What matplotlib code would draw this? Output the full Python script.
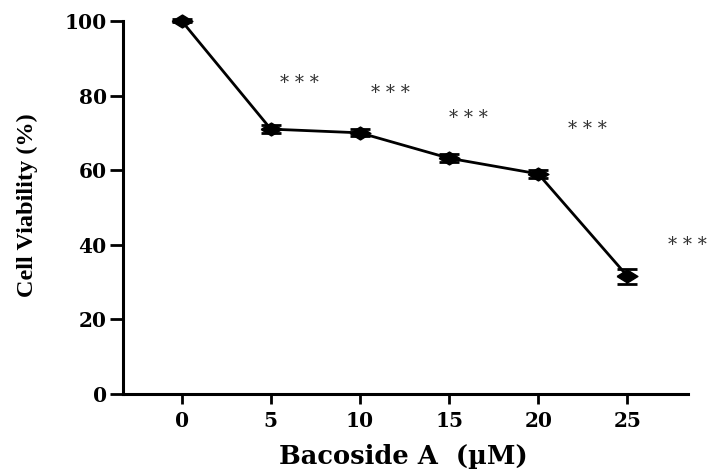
import matplotlib
matplotlib.use("Agg")
import matplotlib.pyplot as plt

conc = [0, 5, 10, 15, 20, 25]
viability = [100, 71, 70, 63.2, 59, 31.6]
err = [0.4, 1.0, 0.9, 1.0, 1.0, 2.0]
star_x = [6.6, 11.7, 16.1, 22.75, 28.35]
star_y = [83.4, 80.7, 74.0, 71.0, 40.0]
star_text = "* * *"

plt.rcParams['font.family'] = ['DejaVu Serif', 'DejaVu Sans']
plt.rcParams['font.weight'] = 'bold'

fig = plt.figure(figsize=(7.1, 4.75), dpi=100)
ax = fig.add_axes([0.173, 0.1705, 0.796, 0.7855])

wide_diamond = [(-1, 0), (0, 0.62), (1, 0), (0, -0.62), (-1, 0)]
ax.errorbar(conc, viability, yerr=err, color='black', marker=wide_diamond, markersize=15,
            linewidth=2, elinewidth=1.5, capsize=7.5, capthick=2, clip_on=False, zorder=3)

for x, y in zip(star_x, star_y):
    ax.text(x, y, star_text, ha='center', va='center', fontsize=13, color='#333333',
            fontweight='normal', family=['DejaVu Serif'], clip_on=False)

ax.set_xlim(-3.3, 28.4)
ax.set_ylim(0, 100)
ax.set_xticks(conc)
ax.set_yticks([0, 20, 40, 60, 80, 100])
ax.spines['top'].set_visible(False)
ax.spines['right'].set_visible(False)
for s in ['left', 'bottom']:
    ax.spines[s].set_linewidth(2.2)
ax.tick_params(axis='y', length=9.5, width=2, labelsize=14.5, pad=2)
ax.tick_params(axis='x', length=7, width=2, labelsize=14.5, pad=5)
for lab in ax.get_xticklabels() + ax.get_yticklabels():
    lab.set_fontweight('bold')

ax.set_ylabel('Cell Viability (%)', fontsize=17.5, fontweight='bold',
              family=['Liberation Serif', 'DejaVu Serif'])
ax.yaxis.label.set_va('center')
ax.yaxis.label.set_ha('center')
ax.yaxis.set_label_coords(-0.168, 0.507)

ax.set_xlabel('Bacoside A  (\u00b5M)', fontsize=18.5, fontweight='bold')
ax.xaxis.label.set_va('center')
ax.xaxis.label.set_ha('center')
ax.xaxis.set_label_coords(0.497, -0.168)

fig.savefig('out.png', dpi=100)
